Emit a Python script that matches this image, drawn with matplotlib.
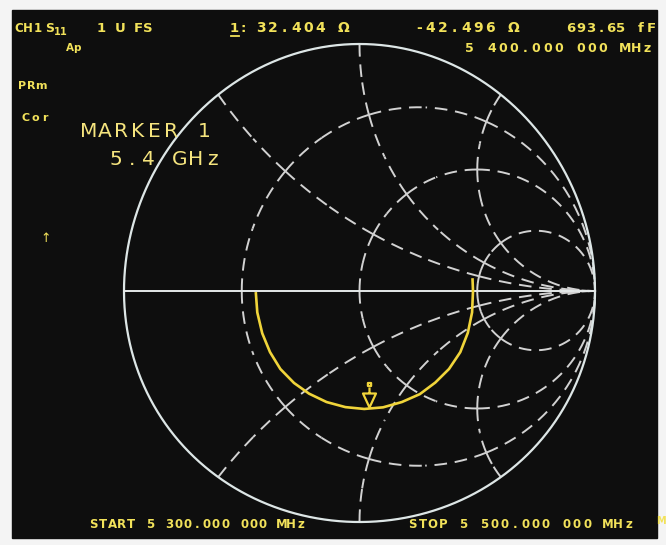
import numpy as np
import matplotlib
matplotlib.use("Agg")
import matplotlib.pyplot as plt
from matplotlib.path import Path
from matplotlib.patches import Rectangle
from matplotlib.lines import Line2D

W, H = 666, 545

# graticule of the analyzer (normalised resistance circles / reactance arcs)
r_circles = [1 / 3, 1, 3]
x_arcs = [0.5, 1, 2]

# S11 trace, reflection coefficient (re, im)
trace_re = [-0.440, -0.434, -0.413, -0.380, -0.336, -0.278, -0.214, -0.140,
            -0.060, 0.020, 0.100, 0.180, 0.256, 0.322, 0.380, 0.428,
            0.460, 0.478, 0.482, 0.480]
trace_im = [-0.010, -0.090, -0.178, -0.258, -0.330, -0.390, -0.436, -0.472,
            -0.494, -0.502, -0.495, -0.472, -0.438, -0.388, -0.330, -0.258,
            -0.176, -0.090, 0.000, 0.048]

# marker 1 at 5.4 GHz
marker_re = [0.041]
marker_im = [-0.494]

ch_label = "CH1"
scale_label = "1 U FS"
marker_r = "32.404 Ω"
marker_x = "-42.496 Ω"
marker_c = "693.65 fF"
marker_f = "5 400.000 000 MHz"
start_label = "START 5 300.000 000 MHz"
stop_label = "STOP 5 500.000 000 MHz"

YEL = "#f2e25a"
GRID = "#d2d2d2"


# the photo of the screen is slightly squeezed in the lower half
def fwd(v):
    return 239 * v + 8 * v * v


def inv(f):
    return (-239 + np.sqrt(np.maximum(239 ** 2 + 32 * f, 0))) / 16


fig = plt.figure(figsize=(W / 100, H / 100), dpi=100, facecolor="#f4f4f4")
fig.patches.append(Rectangle((12 / W, 1 - 538 / H), 645 / W, 528 / H,
                             transform=fig.transFigure, color="#0e0e0e", zorder=-5))
ax = fig.add_axes([0, 0, 1, 1])
ax.set_yscale("function", functions=(fwd, inv))
ax.set_xlim(-359.5 / 235.5, (W - 359.5) / 235.5)
ax.set_ylim(inv(291 - H), inv(291))
ax.axis("off")


def gam(z):
    return (z - 1) / (z + 1)


def dashed(pts, both=True):
    # every piece of the graticule starts its dash pattern at an intersection
    kw = dict(color=GRID, lw=1.4, linestyle=(0, (6.5, 4)), zorder=2)
    if both:
        n = len(pts)
        parts = [pts[: n // 2 + 1], pts[n // 2:][::-1]]
    else:
        parts = [pts]
    for p in parts:
        ax.plot(p.real, p.imag, **kw)


# resistance circles
xb = [-np.inf, -2, -1, -0.5, 0, 0.5, 1, 2, np.inf]
for r in r_circles:
    for a, b in zip(xb[:-1], xb[1:]):
        pa = np.arctan(a) if np.isfinite(a) else -np.pi / 2 + 1e-4
        pb = np.arctan(b) if np.isfinite(b) else np.pi / 2 - 1e-4
        phi = np.linspace(pa, pb, 300)
        pts = gam(r + 1j * np.tan(phi))
        if not np.isfinite(a):
            dashed(pts[::-1], both=False)
        elif not np.isfinite(b):
            dashed(pts, both=False)
        else:
            dashed(pts)

# reactance arcs
rb = [0, 1 / 3, 1, 3, np.inf]
for x in x_arcs:
    for sgn in (1, -1):
        for a, b in zip(rb[:-1], rb[1:]):
            pa = np.arctan(a)
            pb = np.arctan(b) if np.isfinite(b) else np.pi / 2 - 1e-4
            psi = np.linspace(pa, pb, 300)
            pts = gam(np.tan(psi) + 1j * sgn * x)
            dashed(pts, both=np.isfinite(b))

# outer circle and real axis
t = np.linspace(0, 2 * np.pi, 600)
ax.plot(np.cos(t), np.sin(t), color="#dde6e6", lw=1.6, zorder=3)
ax.plot([-1, 1], [0, 0], color="#e4e8e8", lw=1.4, zorder=3)

# trace
ax.plot(trace_re, trace_im, color="#f0d43a", lw=1.9, zorder=4)

# marker symbol: triangle with its tip on the trace, stem and head above
verts = [(-6.5, 14), (6.5, 14), (0, 0), (-6.5, 14),
         (0, 14), (0, 20),
         (-1.6, 21.5), (1.6, 21.5), (1.6, 24.5), (-1.6, 24.5), (-1.6, 21.5)]
codes = [Path.MOVETO, Path.LINETO, Path.LINETO, Path.CLOSEPOLY,
         Path.MOVETO, Path.LINETO,
         Path.MOVETO, Path.LINETO, Path.LINETO, Path.LINETO, Path.CLOSEPOLY]
mk = Path(verts, codes)
ax.plot(marker_re, marker_im, linestyle="none", marker=mk, ms=2 * 24.5 / 1.389,
        mfc="none", mec="#f0d43a", mew=1.6, zorder=5)


def put(s, x0, y, pitch, size, color=YEL, weight="bold", family="DejaVu Sans"):
    # character cells of a fixed pitch, like the instrument's raster font
    for i, ch in enumerate(s):
        if ch != " ":
            fig.text((x0 + i * pitch + pitch / 2) / W, 1 - y / H, ch, ha="center",
                     va="center", fontsize=size, color=color, fontweight=weight,
                     family=family)


# screen annotations
put(ch_label, 14, 28, 9.5, 8.5)
put("S", 45, 28, 9, 9)
put("11", 54, 32, 6.5, 7)
put(scale_label, 96, 28, 9.5, 9.5)
put("1:", 230, 28, 8.5, 9.5)
fig.add_artist(Line2D([231 / W, 239 / W], [1 - 36 / H, 1 - 36 / H], color=YEL, lw=1.3))
put(marker_r, 255, 28, 11.8, 10)
put(marker_x, 413, 28, 11.8, 10)
put(marker_c, 566, 28, 10, 9.5)
put("Ap", 66, 48, 7.5, 7.5)
put(marker_f, 464, 48, 11.1, 9)
put("PRm", 17, 86, 9.5, 8)
put("Cor", 21, 118, 9.5, 8)
put("↑", 42, 238, 8, 9, weight="normal")
put(start_label, 89, 525, 9.4, 8.5)
put(stop_label, 407, 525, 10.3, 8.5)
put("M", 656, 521, 9, 7)

put("MARKER 1", 80, 131, 16.6, 14.5, color="#f5e47e", weight="normal")
put("5.4 GHz", 108, 159, 16, 14.5, color="#f5e47e", weight="normal")

fig.savefig("out.png", dpi=100, facecolor=fig.get_facecolor())
